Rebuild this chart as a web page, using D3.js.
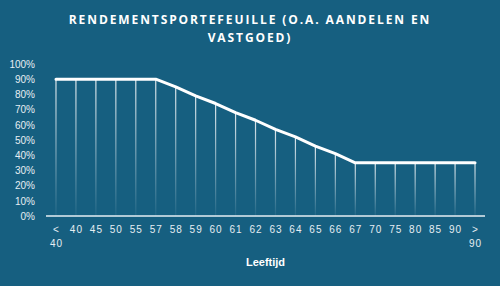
<!DOCTYPE html>
<html>
<head>
<meta charset="utf-8">
<script src="https://cdn.jsdelivr.net/npm/d3@7"></script>
<style>
  html, body { margin: 0; padding: 0; background: #165f80; }
  svg { display: block; }
</style>
</head>
<body>
<div id="vis"></div>
<script>
const width = 500;
const height = 286;
const margin = { top: 64, right: 15, bottom: 70, left: 46 };

const titleLines = ["RENDEMENTSPORTEFEUILLE (O.A. AANDELEN EN", "VASTGOED)"];
const ages = ["< 40", "40", "45", "50", "55", "57", "58", "59", "60", "61", "62", "63", "64", "65", "66", "67", "70", "75", "80", "85", "90", "> 90"];
const rendement = [90, 90, 90, 90, 90, 90, 85, 79, 74, 68, 63, 57, 52, 46, 41, 35, 35, 35, 35, 35, 35, 35];
const yTicks = [0, 10, 20, 30, 40, 50, 60, 70, 80, 90, 100];
const xTitle = "Leeftijd";

const data = ages.map((a, i) => ({ age: a, value: rendement[i] }));
const innerW = width - margin.left - margin.right;
const innerH = height - margin.top - margin.bottom;

const svg = d3.select("#vis")
  .append("svg")
  .attr("width", width)
  .attr("height", height)
  .style("background-color", "#165f80");

const defs = svg.append("defs");
const grad = defs.append("linearGradient")
  .attr("id", "drop")
  .attr("x1", 0).attr("y1", 0).attr("x2", 0).attr("y2", 1);
grad.append("stop").attr("offset", "0%").attr("stop-color", "#fff").attr("stop-opacity", 0.85);
grad.append("stop").attr("offset", "100%").attr("stop-color", "#fff").attr("stop-opacity", 0.05);

// title
svg.append("text")
  .attr("x", 250)
  .attr("y", 24)
  .attr("text-anchor", "middle")
  .style("font-family", "'Open Sans', sans-serif")
  .style("font-weight", "bold")
  .style("font-size", "12px")
  .style("letter-spacing", "1.9px")
  .attr("fill", "#ffffff")
  .selectAll("tspan")
  .data(titleLines)
  .enter()
  .append("tspan")
  .attr("x", 250)
  .attr("dy", (d, i) => i === 0 ? 0 : 18)
  .text(d => d);

const g = svg.append("g")
  .attr("transform", "translate(" + margin.left + "," + margin.top + ")");

const xScale = d3.scalePoint().domain(ages).range([0, innerW]).padding(0.5);
const yScale = d3.scaleLinear().domain([0, 100]).range([innerH, 0]);

// y axis labels
const yAxis = d3.axisLeft(yScale).tickValues(yTicks).tickFormat(d => d + "%").tickSize(0).tickPadding(11);
g.append("g")
  .attr("id", "y-axis")
  .call(yAxis)
  .call(s => s.select(".domain").remove())
  .selectAll("text")
  .style("font-family", "'Liberation Sans', Arial, sans-serif")
  .style("font-size", "10px")
  .attr("fill", "#e6eef3");

// drop lines
g.selectAll("rect.drop")
  .data(data)
  .enter()
  .append("rect")
  .attr("class", "drop")
  .attr("x", d => xScale(d.age) - 0.6)
  .attr("y", d => yScale(d.value))
  .attr("width", 1.2)
  .attr("height", d => innerH - yScale(d.value))
  .attr("fill", "url(#drop)");

// x axis
const xAxis = d3.axisBottom(xScale).tickSize(0).tickPadding(10);
const xg = g.append("g")
  .attr("id", "x-axis")
  .attr("transform", "translate(0," + innerH + ")")
  .call(xAxis);
xg.select(".domain")
  .attr("d", "M0,0H" + innerW)
  .attr("stroke", "#e6eef3")
  .attr("stroke-width", 1.5);
xg.selectAll(".tick text")
  .style("font-family", "'Liberation Sans', Arial, sans-serif")
  .style("font-size", "10px")
  .style("letter-spacing", "1px")
  .attr("fill", "#e6eef3")
  .each(function(d) {
    const parts = d.split(" ");
    if (parts.length > 1) {
      const t = d3.select(this).text(null);
      parts.forEach((p, i) => {
        t.append("tspan").attr("x", 0).attr("dy", i === 0 ? "0.71em" : "1.4em").text(p);
      });
      t.attr("dy", null);
    }
  });

// line
const line = d3.line().x(d => xScale(d.age)).y(d => yScale(d.value));
g.append("path")
  .datum(data)
  .attr("fill", "none")
  .attr("stroke", "#ffffff")
  .attr("stroke-width", 3)
  .attr("stroke-linecap", "round")
  .attr("stroke-linejoin", "round")
  .attr("d", line);

// x title
g.append("text")
  .attr("x", innerW / 2)
  .attr("y", innerH + 50)
  .attr("text-anchor", "middle")
  .style("font-family", "'Liberation Sans', Arial, sans-serif")
  .style("font-weight", "bold")
  .style("font-size", "11px")
  .attr("fill", "#ffffff")
  .text(xTitle);
</script>
</body>
</html>
